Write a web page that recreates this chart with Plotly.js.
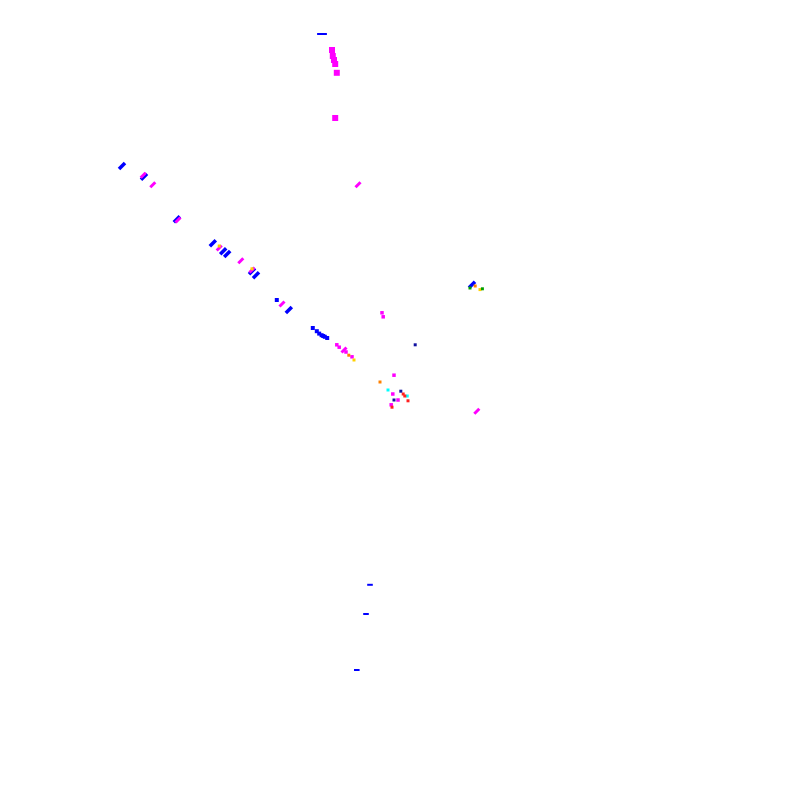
<!DOCTYPE html>
<html>
<head>
<meta charset="utf-8">
<script src="https://cdn.plot.ly/plotly-3.0.1.min.js"></script>
<style>
  html, body { margin: 0; padding: 0; background: #fff; }
  #chart { width: 800px; height: 800px; }
</style>
</head>
<body>
<div id="chart"></div>
<script>
// points, in plot units (0..100 both ways)
const blueBarX = [15.25, 18.0, 22.1, 26.6, 27.9, 28.4, 31.5, 32.0, 36.1, 59.0];
const blueBarY = [79.25, 77.9, 72.6, 69.6, 68.6, 68.25, 66.1, 65.6, 61.25, 64.4];

const blueDotX = [34.6, 39.1, 39.6, 39.9, 40.2, 40.4, 40.6, 40.9];
const blueDotY = [62.5, 59.0, 58.6, 58.3, 58.1, 58.0, 57.9, 57.75];

const blueDashX = [40.25];
const blueDashY = [95.75];

const blueTickX = [46.25, 45.75, 44.6];
const blueTickY = [26.9, 23.25, 16.25];

const magentaBlockX = [41.5, 41.6, 41.75, 41.9, 42.1, 41.9];
const magentaBlockY = [93.75, 93.0, 92.5, 92.0, 90.9, 85.25];

const magentaBarX = [44.75, 17.9, 19.1, 22.25, 27.4, 30.1, 31.5, 35.25, 43.0, 59.6];
const magentaBarY = [76.9, 78.1, 76.9, 72.5, 69.0, 67.4, 66.25, 62.0, 56.25, 48.6];

const magentaDotX = [49.25, 49.1, 49.75, 48.9, 47.75, 47.9, 42.1, 42.4, 43.25, 44.0];
const magentaDotY = [53.1, 50.75, 50.0, 49.4, 60.9, 60.4, 56.9, 56.6, 56.0, 55.4];

const orangeX = [47.5, 43.6, 59.4];
const orangeY = [52.25, 55.6, 64.25];

const cyanX = [48.5, 50.9];
const cyanY = [51.25, 50.5];

const redX = [50.4, 51.0, 49.0, 50.6];
const redY = [50.75, 49.9, 49.1, 50.5];

const navyX = [51.9, 50.1, 49.25];
const navyY = [56.9, 51.1, 50.0];

const yellowX = [44.25, 27.4, 31.5, 60.0];
const yellowY = [55.0, 69.25, 66.4, 63.8];

const greenX = [58.75, 60.3];
const greenY = [64.0, 63.9];

function pts(x, y, color, symbol, size, width) {
  return {
    type: "scatter",
    mode: "markers",
    x: x,
    y: y,
    hoverinfo: "skip",
    marker: {
      color: color,
      symbol: symbol,
      size: size,
      line: { color: color, width: width },
    },
  };
}

const traces = [
  pts(blueBarX, blueBarY, "#0000ff", "line-ne", 6, 3.5),
  pts(blueDotX, blueDotY, "#0000ff", "square", 4, 0),
  pts(blueDashX, blueDashY, "#0000ff", "line-ew", 7, 2),
  pts(blueTickX, blueTickY, "#0000ff", "line-ew", 4, 2),
  pts(magentaBlockX, magentaBlockY, "#ff00ff", "square", 6, 0),
  pts(magentaBarX, magentaBarY, "#ff00ff", "line-ne", 5, 3),
  pts(magentaDotX, magentaDotY, "#ff00ff", "square", 3.5, 0),
  pts(orangeX, orangeY, "#ff8000", "square", 3, 0),
  pts(cyanX, cyanY, "#00ffff", "square", 3, 0),
  pts(redX, redY, "#ff2020", "square", 3, 0),
  pts(navyX, navyY, "#1010a0", "square", 3, 0),
  pts(yellowX, yellowY, "#ffd000", "square", 3, 0),
  pts(greenX, greenY, "#00a000", "square", 3, 0),
];

const hidden = {
  range: [0, 100],
  visible: false,
  showgrid: false,
  zeroline: false,
  fixedrange: true,
};

Plotly.newPlot(
  "chart",
  traces,
  {
    width: 800,
    height: 800,
    margin: { l: 0, r: 0, t: 0, b: 0, pad: 0 },
    paper_bgcolor: "#ffffff",
    plot_bgcolor: "#ffffff",
    showlegend: false,
    xaxis: hidden,
    yaxis: hidden,
  },
  { displayModeBar: false, staticPlot: true }
);
</script>
</body>
</html>
